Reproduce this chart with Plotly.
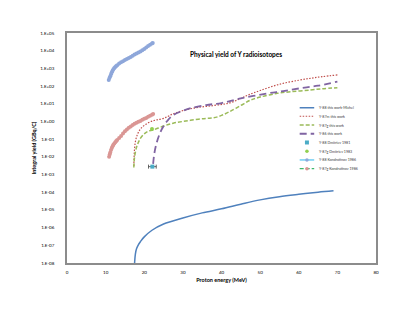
import plotly.graph_objects as go

# ---- data ----
e_michel = [17.3, 17.5, 17.7, 18.0, 18.5, 19.0, 20.0, 22.0, 25.0, 30.0, 35.0, 40.0, 45.0, 50.0, 55.0, 60.0, 65.0, 69.0]
y_michel = [1e-9, 1e-8, 3.2e-8, 6.3e-8, 1.1e-7, 1.6e-7, 3.0e-7, 7.1e-7, 1.6e-6, 3.5e-6, 6.8e-6, 1.15e-5, 2.1e-5, 3.7e-5, 5.6e-5, 7.6e-5, 1.0e-4, 1.2e-4]

e_87m = [17.3, 17.5, 17.8, 18.3, 19.0, 20.0, 21.5, 23.0, 25.0, 28.0, 32.7, 38.0, 42.0, 45.0, 47.0, 50.0, 55.0, 60.0, 63.0, 66.0, 70.0]
y_87m = [0.003, 0.03, 0.09, 0.2, 0.37, 0.6, 0.95, 1.2, 1.5, 3.0, 5.6, 8.0, 11.0, 20.0, 32.0, 56.0, 126.0, 214.0, 275.0, 339.0, 427.0]

e_87g = [17.3, 17.5, 18.0, 18.4, 19.0, 20.0, 21.0, 22.3, 25.0, 27.5, 30.0, 33.0, 36.0, 38.0, 40.0, 42.0, 45.0, 47.5, 50.0, 54.5, 58.0, 63.0, 66.0, 70.0]
y_87g = [0.0025, 0.01, 0.035, 0.06, 0.11, 0.2, 0.28, 0.33, 0.55, 0.8, 1.0, 1.25, 1.5, 1.6, 2.2, 3.5, 8.0, 16.0, 24.0, 39.0, 48.0, 60.0, 70.0, 81.0]

e_86 = [22.3, 22.6, 23.2, 24.0, 24.9, 26.0, 27.5, 30.0, 32.0, 36.0, 40.0, 45.0, 52.0, 56.0, 60.5, 65.0, 70.0]
y_86 = [0.004, 0.015, 0.06, 0.2, 0.5, 1.1, 2.3, 4.0, 5.6, 8.5, 11.0, 20.0, 39.0, 52.0, 76.0, 105.0, 178.0]

e_dm81 = [22.1]
y_dm81 = [0.0028]
dm81_err = [1.0]

e_dm83 = [22.0]
y_dm83 = [0.38]

e_k88 = [10.8, 11.0, 11.2, 11.4, 11.6, 11.8, 12.0, 12.25, 12.5, 12.75, 13.0, 13.5, 14.0, 14.5, 15.0, 15.5, 16.0, 16.5,
         17.0, 17.5, 18.0, 18.5, 19.0, 19.5, 20.0, 20.5, 21.0, 21.5, 22.0, 22.2]
y_k88 = [219, 282, 355, 468, 603, 741, 891, 1047, 1202, 1349, 1514, 1862, 2188, 2512, 2951, 3388, 3890, 4467,
         5129, 6026, 6918, 7943, 9120, 10715, 12589, 15136, 18197, 21878, 25704, 27542]

e_k87g = [10.9, 11.05, 11.2, 11.4, 11.6, 11.8, 12.0, 12.25, 12.5, 12.75, 13.0, 13.5, 14.0, 14.5, 15.0, 15.5, 16.0, 16.5,
          17.0, 17.5, 18.0, 18.5, 19.0, 19.5, 20.0, 20.5, 21.0, 21.5, 22.0, 22.3]
y_k87g = [0.01, 0.0135, 0.0178, 0.0240, 0.0316, 0.0398, 0.0479, 0.0562, 0.0661, 0.0776, 0.0891, 0.1175, 0.151, 0.209,
          0.282, 0.355, 0.437, 0.525, 0.631, 0.741, 0.851, 0.955, 1.07, 1.23, 1.41, 1.58, 1.82, 2.09, 2.40, 2.63]

y_tickvals = [1e-8, 1e-7, 1e-6, 1e-5, 1e-4, 1e-3, 1e-2, 1e-1, 1, 10, 100, 1e3, 1e4, 1e5]
y_ticktext = ["1.E-08", "1.E-07", "1.E-06", "1.E-05", "1.E-04", "1.E-03", "1.E-02",
              "1.E-01", "1.E+00", "1.E+01", "1.E+02", "1.E+03", "1.E+04", "1.E+05"]
x_tickvals = [0, 10, 20, 30, 40, 50, 60, 70, 80]

legend_names = ["Y-88 this work-Michel", "Y-87m this work", "Y-87g this work", "Y-86 this work",
                "Y-88 Dmitriev 1981", "Y-87g Dmitriev 1983", "Y-88 Kondratinov 1986", "Y-87g Kondratinov 1986"]

BLUE = '#4F81BD'
RED = '#C0504D'
GREEN = '#9BBB59'
PURPLE = '#8064A2'
CYAN = '#4BACC6'
K88_LINE = '#4FC3F0'
K88_MARK = '#8EA7DA'
K87_LINE = '#3DB86A'
K87_MARK = '#DA9694'
FONT = 'Lato'

DOT = '1.5px,1.5px'
DASH = '4px,2px'
LONGDASH = '7px,4px'

fig = go.Figure()

fig.add_trace(go.Scatter(x=e_k88, y=y_k88, mode='lines+markers',
                         line=dict(color=K88_LINE, width=1),
                         marker=dict(color=K88_MARK, size=4, line=dict(width=0))))
fig.add_trace(go.Scatter(x=e_k87g, y=y_k87g, mode='lines+markers',
                         line=dict(color=K87_LINE, width=1, dash=DASH),
                         marker=dict(color=K87_MARK, size=4, line=dict(width=0))))
fig.add_trace(go.Scatter(x=e_michel, y=y_michel, mode='lines', line=dict(color=BLUE, width=1.5, shape='spline')))
fig.add_trace(go.Scatter(x=e_87m, y=y_87m, mode='lines', line=dict(color=RED, width=1.2, dash=DOT, shape='spline')))
fig.add_trace(go.Scatter(x=e_87g, y=y_87g, mode='lines', line=dict(color=GREEN, width=1.5, dash=DASH, shape='spline')))
fig.add_trace(go.Scatter(x=e_86, y=y_86, mode='lines', line=dict(color=PURPLE, width=1.8, dash=LONGDASH, shape='spline')))
fig.add_trace(go.Scatter(x=e_dm81, y=y_dm81, mode='markers',
                         marker=dict(color=CYAN, size=4, symbol='square'),
                         error_x=dict(type='data', array=dm81_err, color='#404040', thickness=0.8, width=2)))
fig.add_trace(go.Scatter(x=e_dm83, y=y_dm83, mode='markers', marker=dict(color='#92D050', size=4)))

# hand-built legend on an overlay axis (0..1 in both directions)
leg_y = [0.675, 0.638, 0.6, 0.562, 0.524, 0.486, 0.448, 0.41]
lx0, lx1, ltx = 0.753, 0.8, 0.808
styles = [
    dict(mode='lines', line=dict(color=BLUE, width=1.5)),
    dict(mode='lines', line=dict(color=RED, width=1.2, dash=DOT)),
    dict(mode='lines', line=dict(color=GREEN, width=1.5, dash=DASH)),
    dict(mode='lines', line=dict(color=PURPLE, width=1.8, dash=LONGDASH)),
    None, None,
    dict(mode='lines', line=dict(color=K88_LINE, width=1.2)),
    dict(mode='lines', line=dict(color=K87_LINE, width=1.2, dash=DASH)),
]
marks = [None, None, None, None,
         dict(color=CYAN, size=4, symbol='square'),
         dict(color='#92D050', size=3.5),
         dict(color=K88_MARK, size=3.5),
         dict(color=K87_MARK, size=3.5)]
for ly, st, mk, name in zip(leg_y, styles, marks, legend_names):
    if st is not None:
        fig.add_trace(go.Scatter(x=[lx0, lx1], y=[ly, ly], xaxis='x2', yaxis='y2', **st))
    if mk is not None:
        fig.add_trace(go.Scatter(x=[(lx0 + lx1) / 2], y=[ly], xaxis='x2', yaxis='y2', mode='markers', marker=mk))
    fig.add_annotation(x=ltx, y=ly, xref='x2', yref='y2', text=name, showarrow=False,
                       xanchor='left', yanchor='middle', font=dict(size=3.6, color='#404040', family=FONT))

fig.add_annotation(x=0.547, y=0.93, xref='paper', yref='paper', text="<b>Physical yield of Y radioisotopes</b>",
                   showarrow=False, font=dict(size=6.5, color='black', family=FONT))

# the page body adds an 8px offset, so the figure is 8px smaller and the margins shifted
fig.update_layout(
    width=407, height=313,
    margin=dict(l=59, r=39, t=25, b=58),
    paper_bgcolor='white', plot_bgcolor='white',
    showlegend=False,
    font=dict(family=FONT, color='black'),
    xaxis=dict(range=[0, 80], tickvals=x_tickvals, showgrid=False, zeroline=False,
               showline=True, linecolor='#8C8C8C', linewidth=1.5, mirror=True,
               ticks='', tickfont=dict(size=4.5), ticklabelstandoff=4,
               title=dict(text="<b>Proton energy (MeV)</b>", font=dict(size=5.5), standoff=4)),
    yaxis=dict(type='log', range=[-8, 5], tickvals=y_tickvals, ticktext=y_ticktext, showgrid=False,
               zeroline=False, showline=True, linecolor='#8C8C8C', linewidth=1.5, mirror=True,
               ticks='', tickfont=dict(size=4.5), ticklabelstandoff=10,
               title=dict(text="<b>Integral yield (GBq/C)</b>", font=dict(size=5.5), standoff=3)),
    xaxis2=dict(overlaying='x', range=[0, 1], visible=False),
    yaxis2=dict(overlaying='y', range=[0, 1], visible=False),
)

fig.write_html("out.html")
